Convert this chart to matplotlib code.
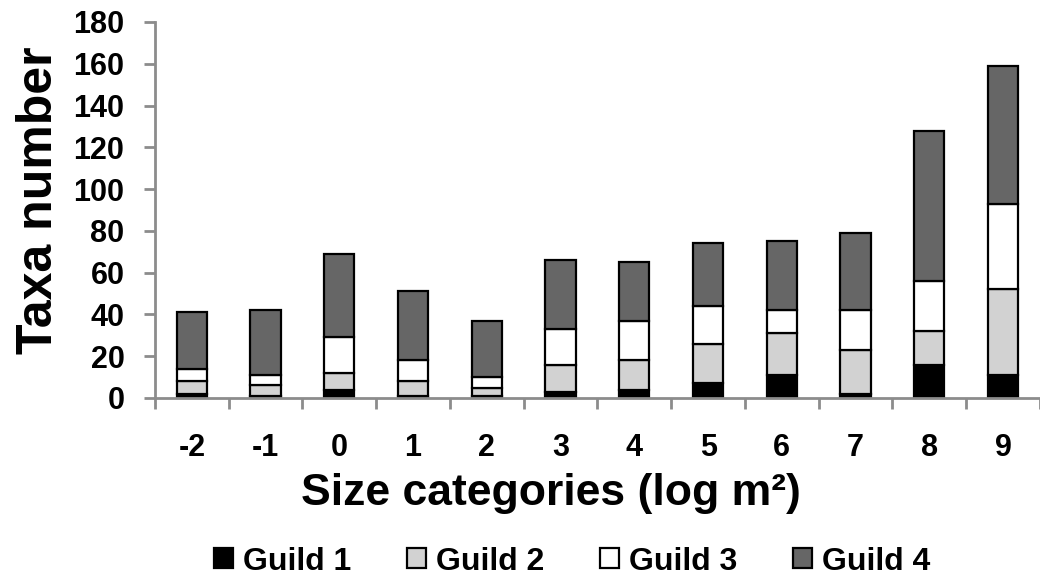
import numpy as np
import matplotlib
matplotlib.use("Agg")
import matplotlib.pyplot as plt

plt.rcParams['font.family'] = ['Liberation Sans', 'DejaVu Sans']
plt.rcParams['font.weight'] = 'bold'

# 数据
categories = ['-2', '-1', '0', '1', '2', '3', '4', '5', '6', '7', '8', '9']
guild1 = [2, 1, 4, 1, 1, 3, 4, 7, 11, 2, 16, 11]
guild2 = [6, 5, 8, 7, 4, 13, 14, 19, 20, 21, 16, 41]
guild3 = [6, 5, 17, 10, 5, 17, 19, 18, 11, 19, 24, 41]
guild4 = [27, 31, 40, 33, 27, 33, 28, 30, 33, 37, 72, 66]

series = [('Guild 1', guild1, '#000000'),
          ('Guild 2', guild2, '#d2d2d2'),
          ('Guild 3', guild3, '#ffffff'),
          ('Guild 4', guild4, '#666666')]

fig = plt.figure(figsize=(10.4, 5.85), dpi=100)
ax = fig.add_axes([0.149, 0.3197, 0.851, 0.6427])

x = np.arange(len(categories))
bottom = np.zeros(len(categories))
for name, vals, col in series:
    ax.bar(x, vals, 0.41, bottom=bottom, color=col, edgecolor='black',
           linewidth=1.6, label=name)
    bottom += np.array(vals)

ax.set_xlim(-0.5, len(categories) - 0.5)
ax.set_ylim(0, 180)
ax.set_yticks(np.arange(0, 181, 20))
ax.set_xticks(x)
ax.set_xticklabels(categories)
ax.set_xticks(np.arange(-0.5, len(categories), 1), minor=True)

for s in ['top', 'right']:
    ax.spines[s].set_visible(False)
for s in ['left', 'bottom']:
    ax.spines[s].set_color('#8c8c8c')
    ax.spines[s].set_linewidth(2)

ax.tick_params(axis='y', direction='out', length=8, width=2, color='#8c8c8c',
               labelsize=22, pad=14)
ax.tick_params(axis='x', which='major', length=0, labelsize=22, pad=25)
ax.tick_params(axis='x', which='minor', direction='out', length=8, width=2,
               color='#8c8c8c')

ax.set_ylabel('Taxa number', fontsize=36, fontweight='bold')
ax.yaxis.set_label_coords(-0.105, 0.527)
ax.set_xlabel('Size categories (log m²)', fontsize=32, fontweight='bold')
ax.xaxis.set_label_coords(0.447, -0.2)

fig.legend(loc='center', bbox_to_anchor=(0.55, 0.04), ncol=4, frameon=False,
           fontsize=23, handlelength=0.6, handleheight=0.6, handletextpad=0.3,
           columnspacing=1.75)

fig.savefig('out.png', dpi=100)
